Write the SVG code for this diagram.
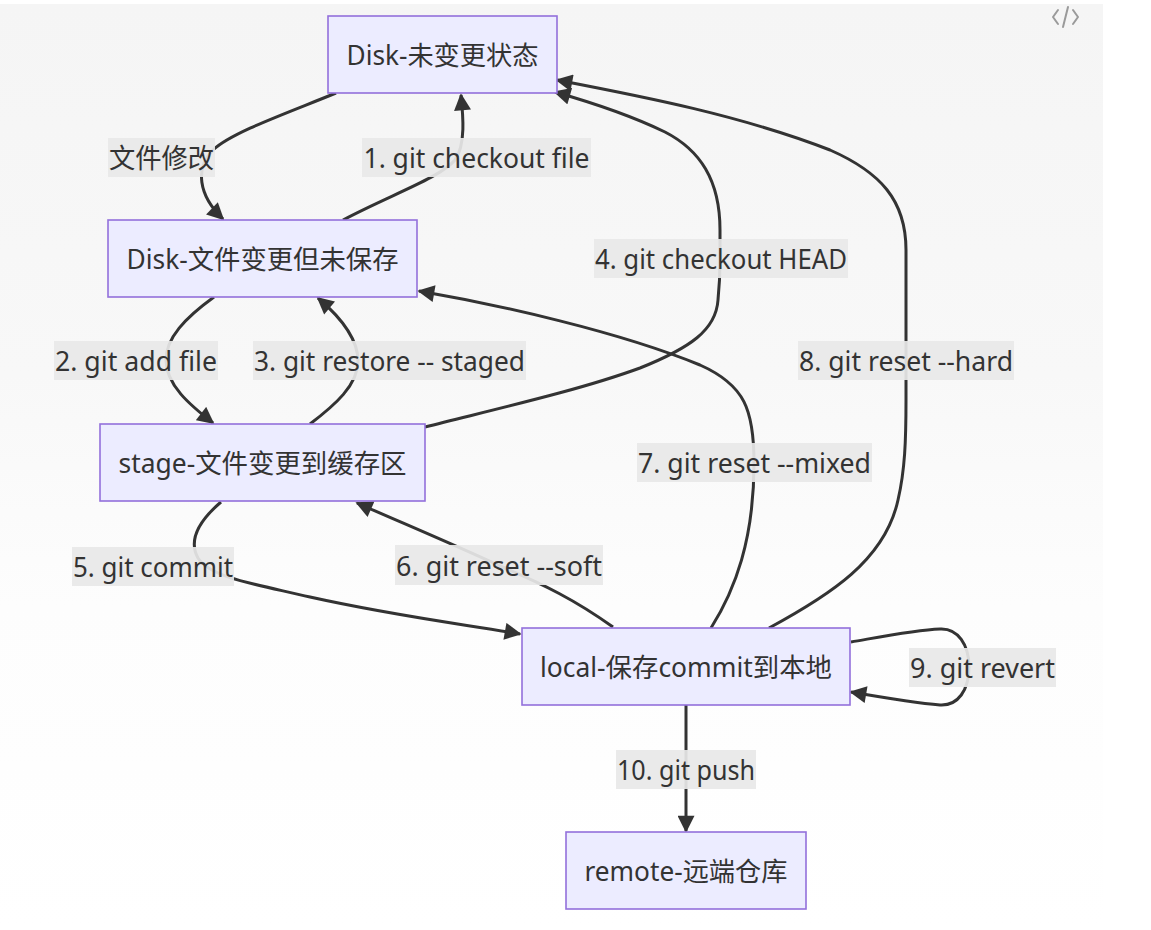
<svg xmlns="http://www.w3.org/2000/svg" width="1151" height="930" viewBox="0 0 1151 930">
<defs>
  <linearGradient id="bg" x1="0" y1="0" x2="0" y2="1">
    <stop offset="0" stop-color="#f5f5f5"/>
    <stop offset="0.4" stop-color="#f8f8f8"/>
    <stop offset="0.65" stop-color="#fdfdfd"/>
    <stop offset="1" stop-color="#ffffff"/>
  </linearGradient>
  <marker id="arrow" viewBox="0 0 10 10" refX="9" refY="5" markerUnits="userSpaceOnUse" markerWidth="18" markerHeight="17" orient="auto">
    <path d="M0,0 L10,5 L0,10 z" fill="#333333"/>
  </marker>
  <style>
    .node rect { fill: #ECECFF; stroke: #9370DB; stroke-width: 1.6; }
    .node text { font-family: "Noto Sans", "Noto Sans CJK SC", sans-serif; font-size: 26.5px; fill: #333333; text-anchor: middle; dominant-baseline: central; }
    .edge { fill: none; stroke: #333333; stroke-width: 3; marker-end: url(#arrow); }
    .lbl rect { fill: #e8e8e8; fill-opacity: 0.92; }
    .lbl text { font-family: "Noto Sans", "Noto Sans CJK SC", sans-serif; font-size: 27px; fill: #333333; text-anchor: middle; dominant-baseline: central; }
  </style>
</defs>
<rect x="0" y="0" width="1151" height="930" fill="#ffffff"/>
<rect x="0" y="4" width="1103" height="926" fill="url(#bg)"/>
<g id="code-icon" fill="none" stroke="#9a9a9a" stroke-width="2" stroke-linecap="round" stroke-linejoin="round">
  <path d="M1058,10 L1053,17 L1058,24"/>
  <path d="M1068,7 L1063,27"/>
  <path d="M1073,10 L1078,17 L1073,24"/>
</g>

<g id="connectors">
  <path class="edge" d="M336,93 C290,112 232,132 213,150 C195,168 198,195 223,219"/>
  <path class="edge" d="M343,220 C390,195 440,178 455,160 C466,145 463,115 461,95"/>
  <path class="edge" d="M214,297 C185,318 166,338 166,360 C166,385 190,405 213,423"/>
  <path class="edge" d="M310,424 C335,405 358,385 358,361 C358,338 338,315 318,298"/>
  <path class="edge" d="M425,427 C500,408 580,390 640,368 C690,348 716,330 718,300 C720,280 720,270 720,259 L720,230 C720,180 700,150 665,132 C630,115 590,102 555,92"/>
  <path class="edge" d="M221,502 C200,520 188,540 198,558 C210,578 260,585 310,597 C400,617 470,625 520,634"/>
  <path class="edge" d="M613,627 C575,600 545,585 500,566 C455,545 400,522 357,503"/>
  <path class="edge" d="M711,628 C735,590 754,540 754,463 C754,410 745,385 700,365 C620,332 500,305 419,291"/>
  <path class="edge" d="M769,628 C830,595 885,560 898,500 C905,470 906,440 906,400 L906,250 C906,200 880,172 830,150 C740,115 640,96 557,80"/>
  <path class="edge" d="M851,642 C880,637 915,630 940,629 C958,628 969,645 969,667 C969,690 958,706 940,705 C915,703 880,697 851,692"/>
  <path class="edge" d="M686,705 L686,831"/>
</g>

<g id="edge-labels">
  <g class="lbl"><rect x="108" y="138" width="107" height="39"/><text x="161.5" y="157.5" textLength="105" lengthAdjust="spacingAndGlyphs">文件修改</text></g>
  <g class="lbl"><rect x="362" y="138" width="229" height="39"/><text x="476.5" y="157.5" textLength="226" lengthAdjust="spacingAndGlyphs">1. git checkout file</text></g>
  <g class="lbl"><rect x="54" y="341" width="164" height="39"/><text x="136" y="360.5" textLength="162" lengthAdjust="spacingAndGlyphs">2. git add file</text></g>
  <g class="lbl"><rect x="253" y="341" width="273" height="39"/><text x="389.5" y="360.5" textLength="271" lengthAdjust="spacingAndGlyphs">3. git restore -- staged</text></g>
  <g class="lbl"><rect x="594" y="239" width="254" height="39"/><text x="721" y="258.5" textLength="252" lengthAdjust="spacingAndGlyphs">4. git checkout HEAD</text></g>
  <g class="lbl"><rect x="72" y="547" width="162" height="39"/><text x="153" y="566.5" textLength="160" lengthAdjust="spacingAndGlyphs">5. git commit</text></g>
  <g class="lbl"><rect x="395" y="545" width="208" height="40"/><text x="499" y="565.5" textLength="206" lengthAdjust="spacingAndGlyphs">6. git reset --soft</text></g>
  <g class="lbl"><rect x="637" y="443" width="235" height="39"/><text x="754.5" y="462.5" textLength="233" lengthAdjust="spacingAndGlyphs">7. git reset --mixed</text></g>
  <g class="lbl"><rect x="798" y="341" width="216" height="39"/><text x="906" y="360.5" textLength="214" lengthAdjust="spacingAndGlyphs">8. git reset --hard</text></g>
  <g class="lbl"><rect x="909" y="648" width="147" height="39"/><text x="982.5" y="667.5" textLength="145" lengthAdjust="spacingAndGlyphs">9. git revert</text></g>
  <g class="lbl"><rect x="616" y="750" width="140" height="39"/><text x="686" y="769.5" textLength="138" lengthAdjust="spacingAndGlyphs">10. git push</text></g>
</g>

<g id="node-disk-unchanged" class="node">
  <rect x="328" y="16" width="229" height="77"/>
  <text x="442.5" y="54.5" textLength="192" lengthAdjust="spacingAndGlyphs">Disk-未变更状态</text>
</g>
<g id="node-disk-modified" class="node">
  <rect x="108" y="220" width="309" height="77"/>
  <text x="262.5" y="258.5" textLength="272" lengthAdjust="spacingAndGlyphs">Disk-文件变更但未保存</text>
</g>
<g id="node-stage" class="node">
  <rect x="100" y="424" width="325" height="77"/>
  <text x="262.5" y="462.5" textLength="288" lengthAdjust="spacingAndGlyphs">stage-文件变更到缓存区</text>
</g>
<g id="node-local" class="node">
  <rect x="522" y="628" width="328" height="77"/>
  <text x="686" y="666.5" textLength="292" lengthAdjust="spacingAndGlyphs">local-保存commit到本地</text>
</g>
<g id="node-remote" class="node">
  <rect x="566" y="832" width="240" height="77"/>
  <text x="686" y="870.5" textLength="203" lengthAdjust="spacingAndGlyphs">remote-远端仓库</text>
</g>
</svg>
